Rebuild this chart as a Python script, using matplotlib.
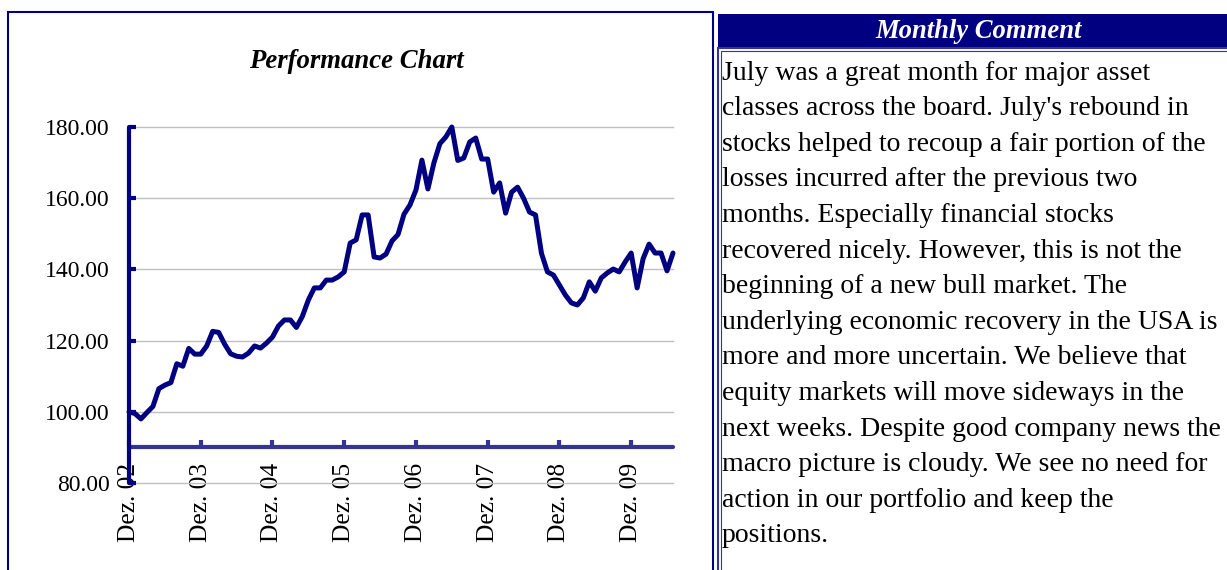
import matplotlib
matplotlib.use("Agg")
import matplotlib.pyplot as plt
from matplotlib.patches import Rectangle

# ---------------- data ----------------
tick_labels = ["Dez. 02", "Dez. 03", "Dez. 04", "Dez. 05", "Dez. 06", "Dez. 07", "Dez. 08", "Dez. 09"]
tick_months = [0, 12, 24, 36, 48, 60, 72, 84]
performance = [
    100.0, 99.5, 98.0, 99.8, 101.5, 106.5, 107.5, 108.2, 113.5, 112.8, 117.8, 116.2,
    116.2, 118.5, 122.6, 122.3, 119.0, 116.3, 115.6, 115.4, 116.5, 118.5, 117.9, 119.3,
    121.0, 124.1, 125.8, 125.8, 123.7, 126.8, 131.4, 134.8, 134.8, 137.0, 137.0, 137.9,
    139.3, 147.4, 148.3, 155.3, 155.3, 143.5, 143.2, 144.3, 148.0, 149.8, 155.5, 158.1,
    162.3, 170.7, 162.6, 169.9, 175.3, 177.2, 180.0, 170.6, 171.3, 175.8, 176.9, 171.0,
    171.0, 161.7, 164.3, 155.8, 161.7, 163.1, 160.0, 156.1, 155.3, 144.5, 139.3, 138.4,
    135.6, 132.8, 130.6, 130.0, 132.0, 136.5, 133.9, 137.6, 139.0, 140.1, 139.3, 142.1,
    144.6, 134.8, 143.0, 147.1, 144.6, 144.6, 139.6, 144.6,
]
y_ticks = [80, 100, 120, 140, 160, 180]
title = "Performance Chart"
comment_title = "Monthly Comment"
comment_lines = [
    "July was a great month for major asset",
    "classes across the board. July's rebound in",
    "stocks helped to recoup a fair portion of the",
    "losses incurred after the previous two",
    "months. Especially financial stocks",
    "recovered nicely. However, this is not the",
    "beginning of a new bull market. The",
    "underlying economic recovery in the USA is",
    "more and more uncertain. We believe that",
    "equity markets will move sideways in the",
    "next weeks. Despite good company news the",
    "macro picture is cloudy. We see no need for",
    "action in our portfolio and keep the",
    "positions.",
]

# ---------------- layout ----------------
W, H = 1227, 570
NAVY = "#000080"
AXBLUE = "#333399"
SERIF = ["Liberation Serif", "DejaVu Serif"]

fig = plt.figure(figsize=(W / 100, H / 100), dpi=100)
fig.patch.set_facecolor("white")


def fx(px):
    return px / W


def fy(py):
    return 1 - py / H


# left panel frame
fig.add_artist(Rectangle((fx(8), fy(575)), fx(705), (575 - 12) / H, transform=fig.transFigure,
                         fill=False, edgecolor=NAVY, linewidth=1.5))

# right panel: header and text box
fig.add_artist(Rectangle((fx(718), fy(47)), fx(520), 33 / H, transform=fig.transFigure,
                         facecolor=NAVY, edgecolor=NAVY, linewidth=0))
fig.add_artist(Rectangle((fx(718), fy(575)), fx(520), (575 - 48) / H, transform=fig.transFigure,
                         fill=False, edgecolor=AXBLUE, linewidth=1.5))
fig.add_artist(Rectangle((fx(721), fy(575)), fx(520), (575 - 51) / H, transform=fig.transFigure,
                         fill=False, edgecolor=AXBLUE, linewidth=0.8))
fig.text(fx(979), fy(31), comment_title, color="white", fontsize=19.2, fontweight="bold",
         fontstyle="italic", family=SERIF, ha="center", va="center")
for i, line in enumerate(comment_lines):
    fig.text(fx(722), fy(73 + i * 35.6), line, color="black", fontsize=20.0, family=SERIF,
             ha="left", va="center")

# chart title
fig.text(fx(356), fy(61), title, fontsize=19.3, fontweight="bold", fontstyle="italic",
         family=SERIF, ha="center", va="center")

# axes
ax = fig.add_axes([fx(129), fy(483), fx(673 - 129), (483 - 127) / H])
ax.set_facecolor("none")
months = list(range(len(performance)))
ax.plot(months, performance, color=NAVY, linewidth=3.6, solid_joinstyle="round",
        solid_capstyle="round", clip_on=False, zorder=5)
ax.set_xlim(0, len(performance) - 1)
ax.set_ylim(80, 180)

for sp in ["top", "right"]:
    ax.spines[sp].set_visible(False)
ax.spines["left"].set_color(NAVY)
ax.spines["left"].set_linewidth(3)
ax.spines["left"].set_capstyle("round")
ax.spines["left"].set_zorder(6)
ax.spines["bottom"].set_position(("data", 90))
ax.spines["bottom"].set_color(AXBLUE)
ax.spines["bottom"].set_linewidth(3)
ax.spines["bottom"].set_capstyle("round")

ax.set_yticks(y_ticks)
ax.set_yticklabels([f"{v:.2f}" for v in y_ticks], family=SERIF, fontsize=17)
ax.tick_params(axis="y", direction="in", length=5, width=3, color=NAVY, pad=14)
ax.set_xticks(tick_months)
ax.set_xticklabels(tick_labels, rotation=90, family=SERIF, fontsize=18.4)
ax.tick_params(axis="x", direction="in", length=5, width=3, color=AXBLUE, pad=11)

ax.yaxis.grid(True, color="#c0c0c0", linewidth=1)
for gl in ax.get_ygridlines():
    gl.set_clip_on(False)
ax.set_axisbelow(True)

fig.savefig("out.png", dpi=100)
